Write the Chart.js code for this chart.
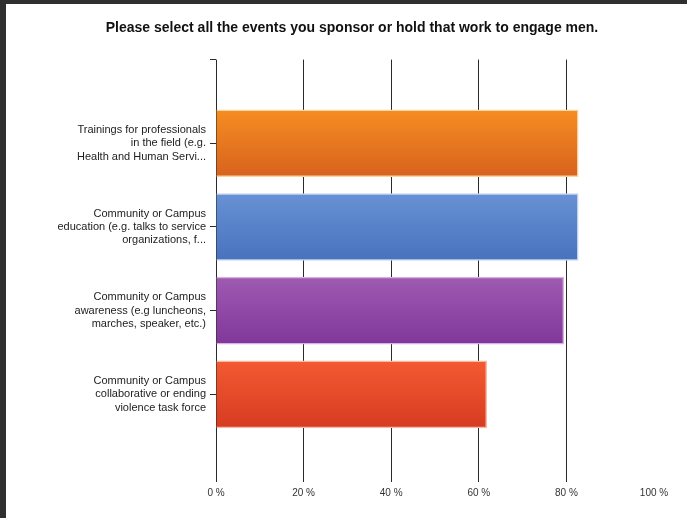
<!DOCTYPE html>
<html>
<head>
<meta charset="utf-8">
<script src="https://cdn.jsdelivr.net/npm/chart.js@4/dist/chart.umd.min.js"></script>
<style>
  html, body { margin: 0; padding: 0; background: #2f2f2f; width: 687px; height: 518px; overflow: hidden; }
  #panel { position: absolute; left: 6px; top: 4px; width: 681px; height: 514px; background: #fff; }
</style>
</head>
<body>
<div id="panel"><canvas id="eventsChart" width="681" height="514"></canvas></div>
<script>
const categories = [
    ['Trainings for professionals', 'in the field (e.g.', 'Health and Human Servi...'],
    ['Community or Campus', 'education (e.g. talks to service', 'organizations, f...'],
    ['Community or Campus', 'awareness (e.g luncheons,', 'marches, speaker, etc.)'],
    ['Community or Campus', 'collaborative or ending', 'violence task force']
];
const percentages = [82.7, 82.7, 79.4, 61.8];
const xTicks = [0, 20, 40, 60, 80, 100];

// top / bottom shade of each bar, plus a pale edge
const shadeTop = ['#f68d22', '#6892d4', '#9f5ab1', '#f45a31'];
const shadeBottom = ['#d8621d', '#4872bd', '#80379a', '#d73b22'];
const edgeColors = ['#f9d3a0', '#c3d5ef', '#d6b1de', '#f8b8a6'];

// empty slot above and below so the axis runs past the first and last bar
const labels = [''].concat(categories, ['']);
const values = [null].concat(percentages, [null]);
const pad = arr => [null].concat(arr, [null]);
const tops = pad(shadeTop), bottoms = pad(shadeBottom);

const barShading = {
    id: 'barShading',
    beforeDatasetsDraw(chart) {
        const ctx = chart.ctx;
        chart.getDatasetMeta(0).data.forEach((bar, i) => {
            if (!tops[i]) return;
            const half = bar.height / 2;
            const g = ctx.createLinearGradient(0, bar.y - half, 0, bar.y + half);
            g.addColorStop(0, tops[i]);
            g.addColorStop(1, bottoms[i]);
            bar.options.backgroundColor = g;
        });
    }
};

new Chart(document.getElementById('eventsChart'), {
    type: 'bar',
    data: {
        labels: labels,
        datasets: [{
            data: values,
            backgroundColor: tops,
            borderColor: pad(edgeColors),
            borderWidth: 1.5,
            borderSkipped: 'left',
            barThickness: 67
        }]
    },
    options: {
        indexAxis: 'y',
        responsive: false,
        animation: false,
        layout: { padding: { left: 44, right: 33, top: 0, bottom: 0 } },
        plugins: {
            legend: { display: false },
            tooltip: { enabled: false },
            title: {
                display: true,
                text: 'Please select all the events you sponsor or hold that work to engage men.',
                color: '#111',
                font: { family: 'Liberation Sans, Arial, sans-serif', size: 14, weight: 'bold', lineHeight: 1.2 },
                padding: { top: 15.6, bottom: 23.2 }
            }
        },
        scales: {
            x: {
                type: 'linear',
                min: 0,
                max: 100,
                afterBuildTicks: scale => { scale.ticks = xTicks.map(v => ({ value: v })); },
                border: { display: false },
                grid: {
                    color: c => c.tick && c.tick.value === 100 ? 'rgba(0,0,0,0)' : '#2a2a2a',
                    lineWidth: 1,
                    tickLength: 4
                },
                ticks: {
                    color: '#333',
                    padding: 5,
                    font: { family: 'Liberation Sans, Arial, sans-serif', size: 10 },
                    callback: v => v + ' %'
                },
                afterFit: scale => { scale.height = 40; }
            },
            y: {
                type: 'category',
                offset: false,
                border: { display: false },
                grid: {
                    offset: false,
                    drawOnChartArea: false,
                    tickLength: 6,
                    color: '#2a2a2a',
                    tickColor: c => c.index === labels.length - 1 ? 'rgba(0,0,0,0)' : '#2a2a2a'
                },
                ticks: {
                    autoSkip: false,
                    color: '#222',
                    padding: 4,
                    font: { family: 'Liberation Sans, Arial, sans-serif', size: 11, lineHeight: 1.2 }
                },
                afterFit: scale => { scale.width = 166; }
            }
        }
    },
    plugins: [barShading]
});
</script>
</body>
</html>
